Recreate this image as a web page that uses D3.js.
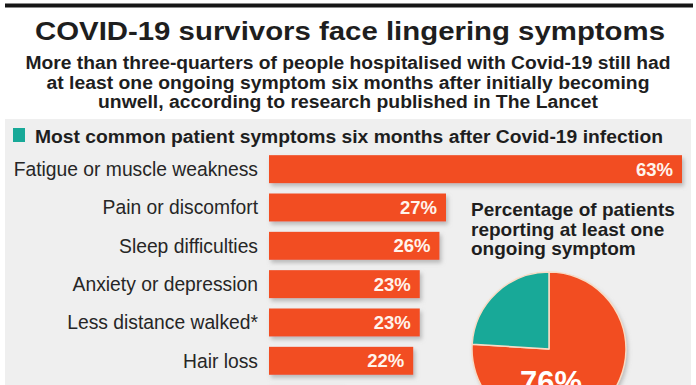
<!DOCTYPE html>
<html>
<head>
<meta charset="utf-8">
<script src="https://cdn.jsdelivr.net/npm/d3@7"></script>
<style>
  html, body { margin: 0; padding: 0; background: #ffffff; }
  svg { display: block; font-family: "Liberation Sans", Arial, Helvetica, sans-serif; }
</style>
</head>
<body>
<svg id="chart" width="696" height="385"></svg>
<script>
// ---- data ----
const title = "COVID-19 survivors face lingering symptoms";
const subtitleLines = [
  "More than three-quarters of people hospitalised with Covid-19 still had",
  "at least one ongoing symptom six months after initially becoming",
  "unwell, according to research published in The Lancet"
];
const legendText = "Most common patient symptoms six months after Covid-19 infection";
const categories = [
  "Fatigue or muscle weakness",
  "Pain or discomfort",
  "Sleep difficulties",
  "Anxiety or depression",
  "Less distance walked*",
  "Hair loss",
  "Smell disorder"
];
const values = [63, 27, 26, 23, 23, 22, 11];
const pieTitleLines = ["Percentage of patients", "reporting at least one", "ongoing symptom"];
const pieLabels = ["At least one ongoing symptom", "No ongoing symptom"];
const pieValues = [76, 24];

// ---- styles ----
const ORANGE = "#f24d21";
const TEAL = "#18a998";
const TEXT = "#1e1e1e";
const H = 385;

const svg = d3.select("#chart");
const defs = svg.append("defs");
const sh = defs.append("filter").attr("id", "shadow")
  .attr("x", "-10%").attr("y", "-10%").attr("width", "130%").attr("height", "140%");
sh.append("feDropShadow").attr("dx", 2).attr("dy", 3).attr("stdDeviation", 2)
  .attr("flood-color", "#8a8a8a").attr("flood-opacity", 0.55);

// background
svg.append("rect").attr("x", 0).attr("y", 0).attr("width", 696).attr("height", H).attr("fill", "#ffffff");
svg.append("rect").attr("x", 5).attr("y", 119).attr("width", 686).attr("height", 270).attr("fill", "#efefef");

// top rule
svg.append("rect").attr("x", 5).attr("y", 3.5).attr("width", 688).attr("height", 4).attr("fill", "#161616");

// title
svg.append("text").attr("x", 350).attr("y", 40).attr("text-anchor", "middle")
  .attr("font-size", 26).attr("font-weight", "bold").attr("fill", TEXT)
  .attr("textLength", 630).attr("lengthAdjust", "spacingAndGlyphs")
  .text(title);

// subtitle
const subWidths = [645, 603, 500];
svg.append("g").selectAll("text").data(subtitleLines).join("text")
  .attr("x", 348).attr("y", (d, i) => 69 + i * 19.5)
  .attr("text-anchor", "middle").attr("font-size", 18).attr("font-weight", "bold").attr("fill", TEXT)
  .attr("textLength", (d, i) => subWidths[i]).attr("lengthAdjust", "spacingAndGlyphs")
  .text(d => d);

// legend
svg.append("rect").attr("x", 13).attr("y", 128).attr("width", 12).attr("height", 14).attr("fill", TEAL);
svg.append("text").attr("x", 35).attr("y", 143).attr("font-size", 18).attr("font-weight", "bold").attr("fill", TEXT)
  .attr("textLength", 628).attr("lengthAdjust", "spacingAndGlyphs")
  .text(legendText);

// ---- bars ----
const x = d3.scaleLinear().domain([0, 63]).range([269, 682]);
const y = d3.scaleBand().domain(categories).range([150, 150 + 7 * 38.33])
  .paddingInner(0.27).paddingOuter(0.135);

const rows = categories.map((c, i) => ({ c, v: values[i] }));
// rows whose text would fall entirely below the visible frame get no labels
const labelled = rows.filter(r => y(r.c) + y.bandwidth() / 2 + 7 < H);

const bars = svg.append("g");
bars.selectAll("rect").data(rows).join("rect")
  .attr("x", x(0))
  .attr("y", d => y(d.c))
  .attr("width", d => x(d.v) - x(0))
  .attr("height", y.bandwidth())
  .attr("fill", ORANGE)
  .attr("filter", "url(#shadow)");

bars.selectAll("text.val").data(labelled).join("text").attr("class", "val")
  .attr("x", d => x(d.v) - 9)
  .attr("y", d => y(d.c) + y.bandwidth() / 2 + 6.5)
  .attr("text-anchor", "end").attr("font-size", 18.5).attr("font-weight", "bold")
  .attr("fill", "#fff4ec")
  .text(d => d.v + "%");

bars.selectAll("text.cat").data(labelled).join("text").attr("class", "cat")
  .attr("x", 258)
  .attr("y", d => y(d.c) + y.bandwidth() / 2 + 7)
  .attr("text-anchor", "end").attr("font-size", 19.3).attr("fill", "#262626")
  .text(d => d.c);

// ---- pie ----
svg.append("g").selectAll("text").data(pieTitleLines).join("text")
  .attr("x", 471).attr("y", (d, i) => 216 + i * 19.5)
  .attr("font-size", 19).attr("font-weight", "bold").attr("fill", TEXT)
  .text(d => d);

const cx = 549, cy = 349, r = 77;
const pie = d3.pie().sort(null).startAngle(0).endAngle(2 * Math.PI);
const arc = d3.arc().innerRadius(0).outerRadius(r);
const pg = svg.append("g").attr("transform", `translate(${cx},${cy})`);
pg.append("circle").attr("r", r).attr("fill", ORANGE).attr("filter", "url(#shadow)");
pg.selectAll("path").data(pie(pieValues)).join("path")
  .attr("d", arc)
  .attr("fill", (d, i) => i === 0 ? ORANGE : TEAL)
  .attr("stroke", "#f7dcc6").attr("stroke-width", 1.5).attr("stroke-linejoin", "round");

pg.append("text").attr("x", 2).attr("y", 44)
  .attr("text-anchor", "middle").attr("font-size", 31).attr("font-weight", "bold")
  .attr("fill", "#ffffff")
  .text(pieValues[0] + "%");
</script>
</body>
</html>
